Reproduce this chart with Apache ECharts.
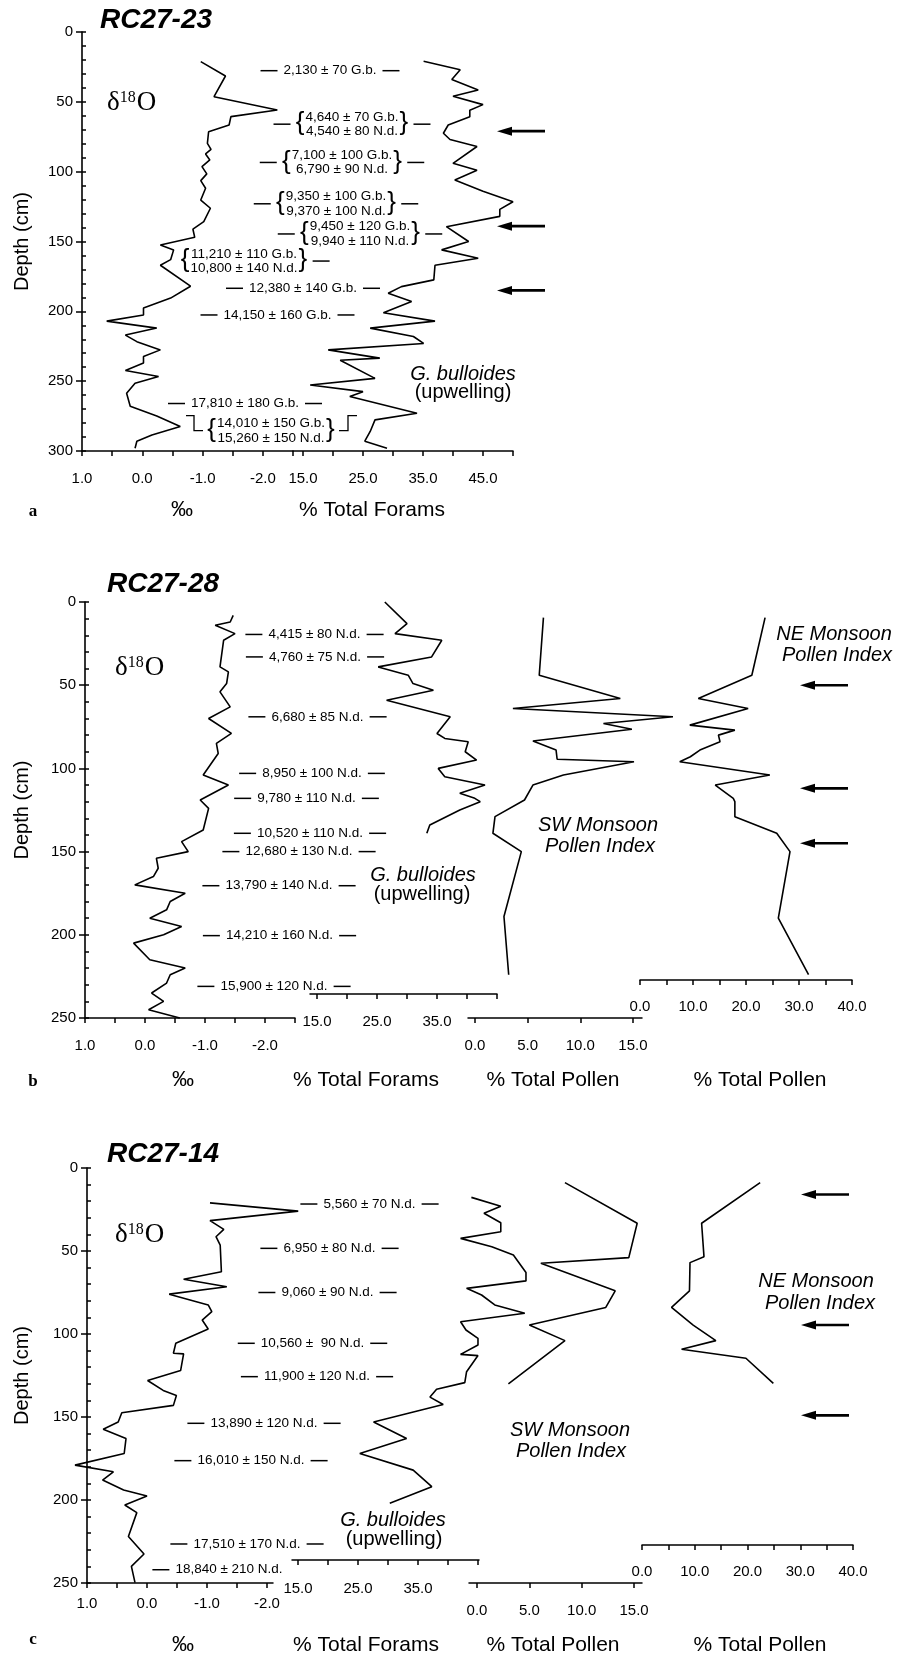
<!DOCTYPE html>
<html>
<head>
<meta charset="utf-8">
<title>RC27 cores</title>
<script src="https://cdn.jsdelivr.net/npm/echarts@6.0.0/dist/echarts.min.js"></script>
<style>
html,body{margin:0;padding:0;background:#fff;}
#chart{width:899px;height:1656px;}
</style>
</head>
<body>
<div id="chart"></div>
<script>
// ================= DATA =================
// Panel a : RC27-23
const a_d18o_depth = [21.2,31.5,46.3,55.8,60.6,66.6,71.4,79.7,84,87.3,91.6,96.4,101.6,106.4,111.9,120.3,126.2,135.8,141.2,147,152.5,156,163,167,182,190.5,197.7,202.6,207,212,217,221.7,227.6,232.4,237,242.4,246.7,251.5,258.6,268,275,282.5,288.5,293,298];
const a_d18o = [-0.97,-1.38,-1.19,-2.24,-1.47,-1.44,-1.10,-1.08,-1.14,-1.05,-1.12,-0.99,-1.07,-0.97,-1.05,-0.97,-1.13,-1.02,-0.84,-0.87,-0.30,-0.52,-0.47,-0.30,-0.80,-0.47,-0.02,-0.02,0.59,-0.24,0.28,0.09,-0.30,-0.02,-0.02,0.28,-0.27,0.12,0.26,0.20,-0.24,-0.63,-0.16,0.09,0.12];
const a_forams_depth = [21,27,34,41.5,46,52,56,60.6,66.6,72.5,77,82,94,99,106,114,121.5,127,132,139.4,150,156,162,167,177.5,182.3,187,193,201,207,212,218,223,227.6,233.5,235,248,252.7,257.5,261,273,277.7,286,293,298];
const a_forams = [35.1,41.2,39.8,44.2,40.0,45.0,42.8,42.8,39.2,38.4,39.5,44.0,40.0,44.0,40.3,45.0,50.0,47.8,47.8,38.9,42.6,38.1,44.2,37.0,36.8,31.4,29.2,33.1,28.4,37.0,26.2,33.4,35.1,19.2,27.8,21.2,27.0,16.2,25.0,22.8,34.0,27.0,26.2,25.3,29.0];
const a_dates = [
  ['2,130 ± 70 G.b.'],
  ['4,640 ± 70 G.b.','4,540 ± 80 N.d.'],
  ['7,100 ± 100 G.b.','6,790 ± 90 N.d.'],
  ['9,350 ± 100 G.b.','9,370 ± 100 N.d.'],
  ['9,450 ± 120 G.b.','9,940 ± 110 N.d.'],
  ['11,210 ± 110 G.b.','10,800 ± 140 N.d.'],
  ['12,380 ± 140 G.b.'],
  ['14,150 ± 160 G.b.'],
  ['17,810 ± 180 G.b.'],
  ['14,010 ± 150 G.b.','15,260 ± 150 N.d.']
];
const a_dateDepths = [27.7,66,93.4,123,144.6,164,183.5,202.6,266,285.4];
const a_arrowDepths = [71,139,185];

// Panel b : RC27-28
const b_d18o_depth = [8,12,14,19,23,39,42,49,54,63,70,79,85,91,104,110,119,124,137,144,150,154,160,165,170,175,180,185,190,195,200,205,215,220,224,229,235,240,245,250];
const b_d18o = [-1.47,-1.42,-1.17,-1.50,-1.31,-1.25,-1.39,-1.36,-1.25,-1.42,-1.06,-1.44,-1.19,-1.22,-0.97,-1.39,-0.92,-1.06,-0.97,-0.61,-0.72,-0.19,-0.22,-0.14,0.17,-0.67,-0.42,-0.36,-0.08,-0.61,-0.31,0.19,-0.08,-0.67,-0.42,-0.36,-0.11,-0.31,-0.06,-0.58];
const b_forams_depth = [0,13,19,23,33,39,44,49,53,59,69,79,82,84,90,95,100,105,110,115,118,120,125,134,139];
const b_forams = [26.3,30.0,28.0,35.8,34.1,25.2,30.2,31.0,34.4,26.6,37.2,35.0,36.3,40.2,39.7,41.6,35.2,36.3,43.0,38.8,41.3,42.2,38.8,33.8,33.3];
const b_sw_depth = [9.4,44,58,64,69,73,76.5,83.5,89,94.5,96,104,110,119,129,139,150,189,224];
const b_sw = [6.5,6.1,13.8,3.6,18.8,12.2,14.9,5.5,7.7,7.8,15.1,8.4,5.5,4.7,1.9,1.7,4.4,2.75,3.2];
const b_ne_depth = [9.4,44,58,64,74,77,80,84,89,93,96,104,110,118,120,129,139,150,190,224];
const b_ne = [23.6,21.1,11.0,20.4,9.4,17.9,14.8,15.1,11.3,9.5,7.5,24.5,14.2,17.6,17.9,17.9,25.8,28.3,26.1,31.8];
const b_dates = ['4,415 ± 80 N.d.','4,760 ± 75 N.d.','6,680 ± 85 N.d.','8,950 ± 100 N.d.','9,780 ± 110 N.d.','10,520 ± 110 N.d.','12,680 ± 130 N.d.','13,790 ± 140 N.d.','14,210 ± 160 N.d.','15,900 ± 120 N.d.'];
const b_dateDepths = [19.5,33,69,103,118,139,150,170.5,200.5,231];
const b_arrowDepths = [50,112,145];

// Panel c : RC27-14
const c_d18o_depth = [21,26,31.7,37,41.4,46.4,62.5,67,71.5,76,82.5,86.5,91.6,97,105.6,111.6,112,122,128,134,137,143,147.4,153,157.4,163,172,179,183,188,194,197.6,203,207.6,222,232.5,240,249.8];
const c_d18o = [-1.05,-2.52,-1.05,-1.28,-1.15,-1.22,-1.24,-0.61,-1.33,-0.37,-1.02,-1.08,-0.92,-1.02,-0.48,-0.44,-0.61,-0.56,-0.01,-0.27,-0.49,-0.44,0.42,0.48,0.73,0.35,0.38,1.20,0.56,0.74,0.39,0.00,0.37,0.17,0.31,0.05,0.26,0.20];
const c_forams_depth = [17.7,23,27.3,33,38.4,42.4,47.4,52.4,63,68,72.5,76.5,82.5,87.5,92.6,97.6,102.6,106.6,112.3,113,122.7,129.3,133.3,138,142.5,153,163,172,182,192,202];
const c_forams = [43.9,48.8,46.0,48.8,48.8,42.1,47.3,50.9,53.0,53.0,43.1,45.6,47.8,52.8,42.1,43.0,45.0,45.0,42.1,45.0,43.1,42.8,38.1,37.0,39.2,27.6,33.1,25.3,34.2,37.3,30.3];
const c_sw_depth = [8.8,33.3,54,57.4,74,84,94.6,104,130];
const c_sw = [8.4,15.3,14.5,6.1,13.2,12.3,5.0,8.4,3.0];
const c_ne_depth = [8.8,33.3,53.4,57,74,84,94.6,104,109.2,114.6,129.7];
const c_ne = [22.4,11.3,11.75,9.1,9.0,5.6,9.7,14.0,7.5,19.7,24.9];
const c_dates = ['5,560 ± 70 N.d.','6,950 ± 80 N.d.','9,060 ± 90 N.d.','10,560 ±  90 N.d.','11,900 ± 120 N.d.','13,890 ± 120 N.d.','16,010 ± 150 N.d.','17,510 ± 170 N.d.','18,840 ± 210 N.d.'];
const c_dateDepths = [21.7,48.4,75,105.6,125.7,153.8,176.3,226.5,242];
const c_arrowDepths = [16,94.6,149];

// Tick label values
const d18oLabels = [1.0, 0.0, -1.0, -2.0];
const foramsLabelsA = [15, 25, 35, 45];
const foramsLabelsBC = [15, 25, 35];
const swLabels = [0, 5, 10, 15];
const neLabels = [0, 10, 20, 30, 40];
const depthInterval = 50;

// ================= LAYOUT =================
const W = 899, H = 1656;
const SANS = '"Liberation Sans", Arial, Helvetica, sans-serif';
const SERIF = '"Liberation Serif", "Times New Roman", serif';
function range(a, b, s){ const r=[]; for(let v=a; v<=b+1e-9; v+=s) r.push(Math.round(v*100)/100); return r; }

const panels = [
  { id:'a', top:32, height:419, depthMax:300, title:'RC27-23',
    axes:[
      {left:82, width:211, min:-2.5, max:1, inverse:true, ticks:range(-2.5,1,0.5), labels:d18oLabels, margin:20, depth:a_d18o_depth, vals:a_d18o},
      {left:293, width:220, min:13.3333, max:50, ticks:range(15,50,5), labels:foramsLabelsA, margin:20, depth:a_forams_depth, vals:a_forams}
    ]},
  { id:'b', top:602, height:416, depthMax:250, title:'RC27-28',
    axes:[
      {left:85, width:210, min:-2.5, max:1, inverse:true, ticks:range(-2.5,1,0.5), labels:d18oLabels, margin:20, depth:b_d18o_depth, vals:b_d18o},
      {left:310, width:187, min:13.8333, max:45, offset:-24, ticks:range(15,45,5), labels:foramsLabelsBC, margin:20, depth:b_forams_depth, vals:b_forams},
      {left:468, width:174, min:-0.665, max:15.86, ticks:range(0,15,5), labels:swLabels, margin:20, depth:b_sw_depth, vals:b_sw},
      {left:640, width:212, min:0, max:40, offset:-38, ticks:range(0,40,5), labels:neLabels, margin:19, depth:b_ne_depth, vals:b_ne}
    ]},
  { id:'c', top:1168, height:415, depthMax:250, title:'RC27-14',
    axes:[
      {left:87, width:186, min:-2.1, max:1, inverse:true, ticks:range(-2,1,0.5), labels:d18oLabels, margin:13, depth:c_d18o_depth, vals:c_d18o},
      {left:292, width:187, min:14, max:45.17, offset:-23, ticks:range(15,45,5), labels:foramsLabelsBC, margin:21, depth:c_forams_depth, vals:c_forams},
      {left:469, width:173, min:-0.764, max:15.76, ticks:range(0,15,5), labels:swLabels, margin:20, depth:c_sw_depth, vals:c_sw},
      {left:642, width:211, min:0, max:40, offset:-38, ticks:range(0,40,5), labels:neLabels, margin:19, depth:c_ne_depth, vals:c_ne}
    ]}
];

const grids=[], xAxes=[], yAxes=[], series=[];
const lineSt = {color:'#000', width:1.5};
panels.forEach(p => {
  p.axes.forEach((ax, k) => {
    // visible axis grid
    const gi = grids.length;
    grids.push({left:ax.left, width:ax.width, top:p.top, height:p.height, containLabel:false});
    xAxes.push({
      type:'value', gridIndex:gi, min:ax.min, max:ax.max, inverse:!!ax.inverse,
      position:'bottom', offset:ax.offset||0,
      axisLine:{show:true, onZero:false, lineStyle:lineSt},
      axisTick:{show:true, inside:false, length:5, lineStyle:lineSt, customValues:ax.ticks},
      axisLabel:{show:true, margin:ax.margin, color:'#000', fontFamily:SANS, fontSize:15,
        customValues:ax.labels, formatter:v => Number(v).toFixed(1)},
      splitLine:{show:false}, minorTick:{show:false}
    });
    if (k === 0) {
      p.yIndex = yAxes.length;
      yAxes.push({type:'value', gridIndex:gi, min:0, max:p.depthMax, inverse:true, interval:depthInterval, position:'left',
        axisLine:{show:true, onZero:false, lineStyle:{color:'#000', width:1.6}},
        axisTick:{show:true, inside:false, length:6, lineStyle:lineSt},
        axisLabel:{show:true, margin:9, color:'#000', fontFamily:SANS, fontSize:15},
        splitLine:{show:false}});
      yAxes.push({type:'value', gridIndex:gi, min:0, max:p.depthMax, inverse:true, interval:10, position:'left',
        axisLine:{show:false, onZero:false}, axisTick:{show:true, inside:true, length:4, lineStyle:lineSt},
        axisLabel:{show:false}, splitLine:{show:false}});
    } else {
      yAxes.push({type:'value', gridIndex:gi, min:0, max:p.depthMax, inverse:true, show:false});
    }
    // wider data grid on the same scale (curves may run past the axis ends), kept inside the canvas
    const ppu = ax.width / (ax.max - ax.min);
    const extL = Math.max(0, ax.left - 2);
    const extR = Math.max(0, W - 2 - (ax.left + ax.width));
    let dMin, dMax;
    if (ax.inverse) { dMax = ax.max + extL/ppu; dMin = ax.min - extR/ppu; }
    else { dMin = ax.min - extL/ppu; dMax = ax.max + extR/ppu; }
    const gd = grids.length;
    grids.push({left:ax.left - extL, width:ax.width + extL + extR, top:p.top, height:p.height, containLabel:false});
    xAxes.push({type:'value', gridIndex:gd, min:dMin, max:dMax, inverse:!!ax.inverse, show:false});
    const yd = yAxes.length;
    yAxes.push({type:'value', gridIndex:gd, min:0, max:p.depthMax, inverse:true, show:false});
    series.push({type:'line', xAxisIndex:gd, yAxisIndex:yd, symbol:'none', showSymbol:false, clip:false,
      data: ax.depth.map((d,i) => [ax.vals[i], d]),
      lineStyle:{color:'#000', width:1.6}, z:5, animation:false});
  });
});

const chart = echarts.init(document.getElementById('chart'), null, {renderer:'canvas', width:W, height:H});
chart.setOption({animation:false, backgroundColor:'#fff', grid:grids, xAxis:xAxes, yAxis:yAxes, series:series});

// ================= ANNOTATIONS =================
const g = [];
const mctx = document.createElement('canvas').getContext('2d');
function tw(text, size, family, weight, style){
  mctx.font = `${style||'normal'} ${weight||'normal'} ${size}px ${family||SANS}`;
  return Math.max(...String(text).split('\n').map(s => mctx.measureText(s).width));
}
function T(x, y, text, o){
  o = o || {};
  g.push({type:'text', x:x, y:y, rotation:o.rot||0, silent:true, z:100,
    style:{text:text, fill:'#000', fontSize:o.size||15, fontFamily:o.family||SANS,
      fontWeight:o.weight||'normal', fontStyle:o.style||'normal',
      align:o.align||'center', textAlign:o.align||'center',
      verticalAlign:o.va||'middle', textVerticalAlign:o.va||'middle',
      lineHeight:o.lh}});
}
function L(x1,y1,x2,y2,w){ g.push({type:'line', silent:true, z:100, shape:{x1,y1,x2,y2}, style:{stroke:'#000', lineWidth:w||1.5}}); }
function PL(pts,w){ g.push({type:'polyline', silent:true, z:100, shape:{points:pts}, style:{stroke:'#000', fill:null, lineWidth:w||1.3}}); }
function ypx(p, d){ return chart.convertToPixel({yAxisIndex:p.yIndex}, d); }

const AFS = 13.5, DASH = 17, GAP = 6;
function dateLabel(p, lines, depth, cx, opt){
  const y = ypx(p, depth);
  lines = Array.isArray(lines) ? lines : [lines];
  const w = tw(lines.join('\n'), AFS);
  let l = cx - w/2, r = cx + w/2;
  T(cx, y, lines.join('\n'), {size:AFS, lh:14.5});
  if (lines.length > 1) {
    T(l - 1, y - 1, '{', {size:26, align:'right'});
    T(r + 1, y - 1, '}', {size:26, align:'left'});
    l -= 9; r += 9;
  }
  if (opt.dl !== false) L(l - GAP - DASH, y, l - GAP, y);
  if (opt.dr !== false) L(r + GAP, y, r + GAP + DASH, y);
  if (opt.steps) {
    PL([[l-GAP-16, y-15],[l-GAP-8, y-15],[l-GAP-8, y],[l-GAP+1, y]]);
    PL([[r+GAP-1, y],[r+GAP+8, y],[r+GAP+8, y-15],[r+GAP+17, y-15]]);
  }
}
function arrow(x0, y){
  g.push({type:'polygon', silent:true, z:100, shape:{points:[[x0,y],[x0+15,y-4.5],[x0+15,y+4.5]]}, style:{fill:'#000'}});
  L(x0+10, y, x0+48, y, 2.6);
}
function delta(x, baseline){
  const s = 27;
  T(x, baseline + 6, 'δ', {size:s, family:SERIF, align:'left', va:'bottom'});
  const x2 = x + tw('δ', s, SERIF);
  T(x2, baseline - 4, '18', {size:16, family:SERIF, align:'left', va:'bottom'});
  const x3 = x2 + tw('18', 16, SERIF) + 1;
  T(x3, baseline + 6, 'O', {size:s, family:SERIF, align:'left', va:'bottom'});
}

const pa = panels[0], pb = panels[1], pc = panels[2];

// ---- Panel a ----
T(100, 20, pa.title, {size:28, weight:'bold', style:'italic', align:'left'});
T(22, (pa.top + pa.top + pa.height)/2, 'Depth (cm)', {size:20, rot:Math.PI/2});
delta(107, 110);
const aLayout = [{cx:330},{cx:352},{cx:342},{cx:336},{cx:360},{cx:244, dl:false},{cx:303},{cx:277.5},{cx:245},{cx:271, dl:false, dr:false, steps:true}];
a_dates.forEach((t,i) => dateLabel(pa, t, a_dateDepths[i], aLayout[i].cx, aLayout[i]));
a_arrowDepths.forEach(d => arrow(497, ypx(pa, d)));
T(463, 374, 'G. bulloides', {size:20, style:'italic'});
T(463, 392, '(upwelling)', {size:20});
T(182, 510, '‰', {size:22});
T(372, 510, '% Total Forams', {size:21});
T(33, 512, 'a', {size:17, weight:'bold', family:SERIF});

// ---- Panel b ----
T(107, 584, pb.title, {size:28, weight:'bold', style:'italic', align:'left'});
T(22, (pb.top + pb.top + pb.height)/2, 'Depth (cm)', {size:20, rot:Math.PI/2});
delta(115, 675);
const bX = [314.5,315,317.5,312,306.5,310,299,279,279.5,274];
b_dates.forEach((t,i) => dateLabel(pb, t, b_dateDepths[i], bX[i], {}));
b_arrowDepths.forEach(d => arrow(800, ypx(pb, d)));
T(423, 875, 'G. bulloides', {size:20, style:'italic'});
T(422, 894, '(upwelling)', {size:20});
T(598, 825, 'SW Monsoon', {size:20, style:'italic'});
T(600, 846, 'Pollen Index', {size:20, style:'italic'});
T(834, 634, 'NE Monsoon', {size:20, style:'italic'});
T(837, 655, 'Pollen Index', {size:20, style:'italic'});
T(183, 1080, '‰', {size:22});
T(366, 1080, '% Total Forams', {size:21});
T(553, 1080, '% Total Pollen', {size:21});
T(760, 1080, '% Total Pollen', {size:21});
T(33, 1082, 'b', {size:17, weight:'bold', family:SERIF});

// ---- Panel c ----
T(107, 1154, pc.title, {size:28, weight:'bold', style:'italic', align:'left'});
T(22, (pc.top + pc.top + pc.height)/2, 'Depth (cm)', {size:20, rot:Math.PI/2});
delta(115, 1242);
const cX = [369.5,329.5,327.5,312.5,317,264,251,247,229];
c_dates.forEach((t,i) => dateLabel(pc, t, c_dateDepths[i], cX[i], i === c_dates.length-1 ? {dr:false} : {}));
c_arrowDepths.forEach(d => arrow(801, ypx(pc, d)));
T(393, 1520, 'G. bulloides', {size:20, style:'italic'});
T(394, 1539, '(upwelling)', {size:20});
T(570, 1430, 'SW Monsoon', {size:20, style:'italic'});
T(571, 1451, 'Pollen Index', {size:20, style:'italic'});
T(816, 1281, 'NE Monsoon', {size:20, style:'italic'});
T(820, 1303, 'Pollen Index', {size:20, style:'italic'});
T(183, 1645, '‰', {size:22});
T(366, 1645, '% Total Forams', {size:21});
T(553, 1645, '% Total Pollen', {size:21});
T(760, 1645, '% Total Pollen', {size:21});
T(33, 1640, 'c', {size:17, weight:'bold', family:SERIF});

chart.setOption({graphic:{elements:g}});
</script>
</body>
</html>
